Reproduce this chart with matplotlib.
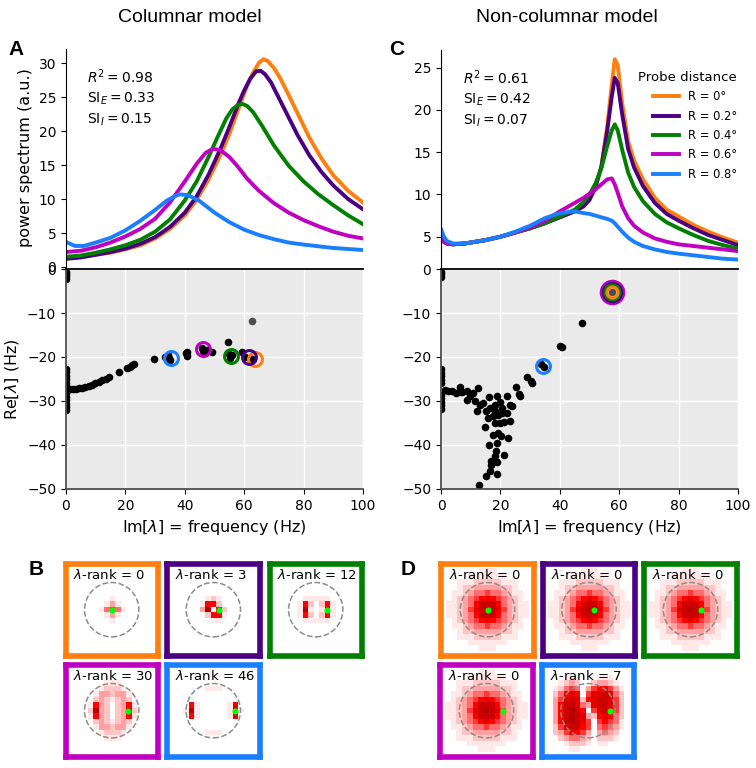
import matplotlib.pyplot as plt
import numpy as np
from matplotlib.colors import LinearSegmentedColormap
from matplotlib.patches import Circle

# ---------------- data ----------------
probe_colors = ["#ff7f0e", "#4b0082", "#008000", "#c000c0", "#1a7fff"]
probe_labels = ["R = 0°", "R = 0.2°", "R = 0.4°", "R = 0.6°", "R = 0.8°"]
probe_R = [0.0, 0.2, 0.4, 0.6, 0.8]  # deg

# power spectra, columnar model (A)
A_f_orange = [0, 5, 10, 15, 20, 25, 30, 35, 40, 44, 48, 52, 55, 58, 61, 63, 65, 66.5, 68, 70, 72, 75, 78, 82, 86, 90, 95, 100]
A_p_orange = [1.3, 1.5, 1.8, 2.1, 2.6, 3.2, 4.2, 5.6, 7.6, 9.9, 12.9, 16.5, 19.6, 23.2, 26.7, 28.6, 30.1, 30.6, 30.3, 29.3, 27.9, 25.3, 22.6, 19.0, 16.0, 13.5, 11.2, 9.5]
A_f_purple = [0, 5, 10, 15, 20, 25, 30, 35, 40, 44, 48, 52, 55, 58, 60, 62, 64, 65.5, 67, 69, 72, 75, 78, 82, 86, 90, 95, 100]
A_p_purple = [1.2, 1.4, 1.8, 2.2, 2.7, 3.4, 4.4, 5.9, 8.0, 10.4, 13.6, 17.4, 20.6, 24.0, 26.0, 27.7, 28.8, 28.9, 28.4, 27.2, 24.6, 22.0, 19.4, 16.4, 14.0, 12.0, 10.0, 8.5]
A_f_green = [0, 5, 10, 15, 20, 25, 30, 35, 40, 44, 48, 51, 54, 56, 58, 59.5, 61, 63, 66, 70, 75, 80, 85, 90, 95, 100]
A_p_green = [1.5, 1.7, 2.1, 2.6, 3.2, 4.0, 5.2, 7.0, 9.8, 12.6, 16.2, 19.1, 21.9, 23.2, 23.9, 24.0, 23.7, 22.8, 20.8, 17.9, 14.9, 12.6, 10.7, 9.1, 7.6, 6.3]
A_f_magenta = [0, 5, 10, 15, 20, 25, 30, 35, 40, 44, 47, 49.5, 52, 55, 58, 61, 65, 70, 75, 80, 85, 90, 95, 100]
A_p_magenta = [2.2, 2.4, 2.9, 3.6, 4.5, 5.6, 7.1, 9.5, 12.6, 15.2, 16.8, 17.4, 17.2, 16.2, 14.7, 13.0, 11.2, 9.4, 8.0, 6.9, 6.0, 5.2, 4.6, 4.2]
A_f_blue = [0, 3, 6, 10, 15, 20, 25, 30, 34, 38, 41, 45, 50, 55, 60, 65, 70, 75, 80, 90, 100]
A_p_blue = [3.7, 3.1, 3.1, 3.6, 4.3, 5.4, 6.8, 8.4, 9.8, 10.7, 10.6, 9.7, 8.0, 6.6, 5.5, 4.7, 4.1, 3.6, 3.3, 2.8, 2.5]

# power spectra, non-columnar model (C)
C_f = [0, 1, 2, 4, 8, 15, 20, 25, 30, 35, 40, 45, 48, 50, 52, 54, 56, 57.5, 58.5, 59.5, 61, 63, 65, 68, 72, 76, 80, 85, 90, 95, 100]
C_p_orange = [4.9, 4.4, 4.2, 4.1, 4.2, 4.6, 5.0, 5.5, 6.0, 6.6, 7.3, 8.0, 8.6, 9.3, 10.8, 13.3, 18.2, 23.0, 26.0, 25.3, 20.8, 16.3, 14.0, 11.8, 9.6, 8.2, 7.4, 6.4, 5.6, 4.9, 4.3]
C_p_purple = [4.9, 4.4, 4.2, 4.1, 4.2, 4.6, 5.0, 5.5, 6.0, 6.6, 7.3, 8.0, 8.6, 9.4, 10.9, 13.3, 17.6, 21.6, 23.8, 23.2, 19.5, 15.4, 13.2, 11.0, 9.0, 7.7, 6.9, 6.0, 5.2, 4.6, 4.0]
C_p_green = [4.9, 4.4, 4.2, 4.1, 4.2, 4.6, 5.0, 5.5, 6.0, 6.6, 7.4, 8.2, 9.1, 10.0, 11.3, 13.1, 15.8, 17.6, 18.3, 17.6, 15.3, 12.6, 10.9, 9.2, 7.7, 6.7, 6.0, 5.2, 4.5, 4.0, 3.6]
C_p_magenta = [4.9, 4.4, 4.2, 4.1, 4.2, 4.6, 5.0, 5.5, 6.1, 6.9, 8.0, 9.0, 9.6, 10.1, 10.6, 11.2, 11.8, 11.9, 11.2, 10.2, 8.6, 7.2, 6.3, 5.5, 4.8, 4.4, 4.1, 3.9, 3.7, 3.5, 3.3]
C_p_blue = [5.9, 5.0, 4.5, 4.2, 4.2, 4.6, 5.0, 5.6, 6.3, 7.2, 7.8, 8.0, 7.8, 7.7, 7.5, 7.3, 7.1, 6.9, 6.6, 6.2, 5.6, 4.9, 4.4, 3.9, 3.5, 3.2, 3.0, 2.8, 2.6, 2.4, 2.3]

# eigenvalues, columnar model: Im (Hz), Re (Hz)
A_eig_im = [0, 0, 0, 0, 0, 0, 0, 0, 0, 0, 0, 0, 0, 0, 0, 0,
            1.2, 2.2, 3.2, 4.3, 5.4, 6.5, 7.6, 8.8, 9.9, 11.0, 12.2, 13.4, 14.6, 17.7, 20.4, 21.4, 22.3, 23.0,
            29.6, 33.5, 34.4, 35.0, 34.8, 40.4, 40.6, 40.8, 45.7, 46.2, 46.8, 47.5, 49.0,
            54.6, 54.7, 55.3, 55.8, 59.1, 60.3, 61.5, 62.5]
A_eig_re = [-0.7, -1.2, -1.7, -2.2, -22.8, -23.5, -24.3, -25.0, -25.8, -26.6, -28.2, -29.0, -29.8, -30.6, -31.4, -32.0,
            -27.3, -27.3, -27.2, -27.1, -27.0, -26.8, -26.6, -26.3, -26.0, -25.6, -25.2, -24.9, -24.5, -23.3, -22.5, -22.2, -21.9, -21.5,
            -20.5, -20.1, -19.5, -20.7, -20.2, -19.0, -19.8, -18.8, -18.0, -18.6, -19.1, -18.4, -18.8,
            -16.7, -19.1, -20.3, -19.6, -18.8, -19.9, -20.2, -20.5]
A_lead = (62.5, -11.8)
A_probe_im = [63.6, 61.5, 55.5, 46.2, 35.2]
A_probe_re = [-20.5, -20.0, -19.8, -18.2, -20.2]

# eigenvalues, non-columnar model
C_eig_im = [0, 0, 0, 0, 0, 0, 0, 0, 0, 0, 0, 0, 0,
            1.3, 2.5, 3.8, 5.0, 6.4, 6.0, 7.2, 8.6, 9.8, 8.9, 10.9, 12.3, 11.4, 12.0, 13.1, 14.2, 16.3, 15.1,
            16.5, 18.2, 19.0, 19.8, 20.4, 18.2, 17.6, 19.3, 20.7, 18.2, 19.8, 21.2, 14.8, 15.9, 17.4, 19.3,
            20.1, 22.4, 16.1, 18.7, 18.5, 18.2, 21.2, 16.8, 17.0, 16.5, 15.1, 19.0, 12.9, 19.0,
            22.1, 23.2, 23.8, 25.2, 26.3, 26.6, 23.2, 22.1, 29.0, 30.3, 30.5, 33.6, 34.8, 40.0, 40.6, 47.6]
C_eig_re = [-0.7, -1.2, -1.8, -22.8, -23.6, -24.4, -25.2, -26.0, -28.6, -29.4, -30.2, -31.0, -31.8,
            -27.6, -27.7, -27.8, -28.1, -26.8, -27.9, -28.0, -27.8, -28.9, -29.7, -28.2, -27.0, -30.0, -32.3, -30.8, -30.5, -29.2, -32.3,
            -31.6, -30.8, -28.8, -30.3, -31.6, -32.3, -33.5, -33.1, -32.7, -35.0, -35.0, -34.8, -35.9, -33.9, -37.7, -37.3,
            -38.0, -38.3, -40.0, -39.5, -41.4, -42.6, -42.2, -43.7, -44.5, -46.0, -47.1, -46.5, -49.0, -43.9,
            -28.8, -31.0, -31.2, -26.9, -28.4, -28.8, -34.5, -32.7, -24.5, -25.5, -25.9, -21.7, -22.3, -17.6, -17.7, -12.3]
C_lead = (57.7, -5.2)
C_probe_im = [57.7, 57.7, 57.7, 57.7, 34.5]
C_probe_re = [-5.2, -5.2, -5.2, -5.2, -22.1]

# eigenvector maps (17 x 17 cells of 0.2 deg, intensity 0-9)
blank = "00000000000000000"
B_map_r0 = [blank, blank, blank, blank, blank, blank,
            "00000000100000000",
            "00000001310000000",
            "00000014541000000",
            "00000001310000000",
            "00000000100000000",
            blank, blank, blank, blank, blank, blank]
B_map_r3 = [blank, blank, blank, blank, blank, blank,
            "00000001210000000",
            "00000016620000000",
            "00000039062000000",
            "00000002661000000",
            "00000000110000000",
            blank, blank, blank, blank, blank, blank]
B_map_r12 = [blank, blank, blank, blank, blank, blank,
             "00000011111000000",
             "00000162026100000",
             "00000191017100000",
             "00000162026100000",
             "00000011111000000",
             blank, blank, blank, blank, blank, blank]
B_map_r30 = [blank, blank, blank,
             "00000001110000000",
             "00000012221000000",
             "00000133233100000",
             "00000232123200000",
             "00001632023610000",
             "00002932023820000",
             "00001632023610000",
             "00000232123200000",
             "00000133233100000",
             "00000012221000000",
             "00000001110000000",
             blank, blank, blank]
B_map_r46 = [blank, blank, blank, blank,
             "00000001110000000",
             blank, blank,
             "00006100000170000",
             "00019100000171000",
             "00006100000170000",
             blank, blank,
             "00000001110000000",
             blank, blank, blank, blank]
D_map_r0 = [blank,
            "00000001110000000",
            "00000111111100000",
            "00011122222111000",
            "00012233333221000",
            "00112344544321100",
            "00123456765432100",
            "01123468886432110",
            "01123578987532110",
            "01123468886432110",
            "00123456765432100",
            "00112344544321100",
            "00012233333221000",
            "00011122222111000",
            "00000111111100000",
            "00000001110000000",
            blank]
D_map_r7 = [blank, blank,
            "00001110001110000",
            "00012320023321000",
            "00124540356653100",
            "00246760577874200",
            "00357872678875200",
            "00368874378875200",
            "00368986057875200",
            "00368987326764200",
            "00368987505654100",
            "00257886504543100",
            "00235665303432000",
            "00023443202221000",
            "00001222101100000",
            "00000110000000000",
            blank]

B_maps = [B_map_r0, B_map_r3, B_map_r12, B_map_r30, B_map_r46]
B_ranks = [0, 3, 12, 30, 46]
D_maps = [D_map_r0, D_map_r0, D_map_r0, D_map_r0, D_map_r7]
D_ranks = [0, 0, 0, 0, 7]

# ---------------- figure ----------------
plt.rcParams["font.size"] = 10
W, H = 756, 768
fig = plt.figure(figsize=(W / 100, H / 100), dpi=100)


def px_axes(x0, y0, x1, y1):
    # axes from pixel box (top-left origin)
    return fig.add_axes([x0 / W, 1 - y1 / H, (x1 - x0) / W, (y1 - y0) / H])


def spectrum_panel(ax, curves, ymin, ymax, yticks):
    for (f, p), c in zip(curves, probe_colors):
        ax.plot(f, p, color=c, lw=2.8)
    ax.set_xlim(0, 100)
    ax.set_ylim(ymin, ymax)
    ax.set_yticks(yticks)
    ax.set_xticks([])
    for s in ["top", "right", "bottom"]:
        ax.spines[s].set_visible(False)


def eigen_panel(ax, im, re, lead, p_im, p_re, sizes):
    ax.set_facecolor("#eaeaea")
    ax.grid(color="white", lw=1.0)
    ax.set_axisbelow(True)
    ax.scatter(im, re, s=30, color="black", lw=0, zorder=2)
    ax.scatter([lead[0]], [lead[1]], s=30, color="#4d4d4d", lw=0, zorder=2)
    # largest rings underneath so nested rings stay visible
    order = sorted(range(5), key=lambda i: -sizes[i])
    for k, i in enumerate(order):
        ax.plot(p_im[i], p_re[i], "o", mfc="none", mec=probe_colors[i],
                ms=sizes[i], mew=2.2, zorder=3 + k * 0.1)
    ax.set_xlim(0, 100)
    ax.set_ylim(-50, 0)
    ax.set_xticks(range(0, 101, 20))
    ax.set_yticks(range(0, -51, -10))
    ax.spines["right"].set_visible(False)
    ax.spines["top"].set_color("black")
    ax.spines["top"].set_linewidth(1.3)
    for s in ["left", "bottom"]:
        ax.spines[s].set_color("0.3")
        ax.spines[s].set_linewidth(1.3)
    ax.set_xlabel(r"Im[$\lambda$] = frequency (Hz)", fontsize=11.5)


# A: columnar spectra
ax_A = px_axes(66, 49, 363, 267)
spectrum_panel(ax_A, [(A_f_orange, A_p_orange), (A_f_purple, A_p_purple),
                      (A_f_green, A_p_green), (A_f_magenta, A_p_magenta),
                      (A_f_blue, A_p_blue)], 0, 32.1, range(0, 31, 5))
ax_A.set_ylabel("power spectrum (a.u.)", fontsize=11.5)
for k, s in enumerate([r"$R^2 = 0.98$", r"$\mathrm{SI}_E = 0.33$", r"$\mathrm{SI}_I = 0.15$"]):
    ax_A.text(0.071, 0.872 - k * 0.099, s, transform=ax_A.transAxes,
              ha="left", va="center", fontsize=10)

# C: non-columnar spectra
ax_C = px_axes(441, 50, 738, 268)
spectrum_panel(ax_C, [(C_f, C_p_orange), (C_f, C_p_purple), (C_f, C_p_green),
                      (C_f, C_p_magenta), (C_f, C_p_blue)], 1.3, 27.1, range(5, 26, 5))
for k, s in enumerate([r"$R^2 = 0.61$", r"$\mathrm{SI}_E = 0.42$", r"$\mathrm{SI}_I = 0.07$"]):
    ax_C.text(0.074, 0.872 - k * 0.099, s, transform=ax_C.transAxes,
              ha="left", va="center", fontsize=10)
for line, lab in zip(ax_C.get_lines(), probe_labels):
    line.set_label(lab)
ax_C.legend(title="Probe distance", loc="upper right", bbox_to_anchor=(1.013, 0.925),
            frameon=False, fontsize=8.3, title_fontsize=9.5, handlelength=2.25,
            handletextpad=0.75, labelspacing=0.55, alignment="right", borderaxespad=0)

# eigenvalue spectra
ax_Ae = px_axes(66, 269, 363, 489)
eigen_panel(ax_Ae, A_eig_im, A_eig_re, A_lead, A_probe_im, A_probe_re, [10, 10, 10, 10, 10])
ax_Ae.set_ylabel(r"Re[$\lambda$] (Hz)", fontsize=11.5)
ax_Ce = px_axes(441, 269, 738, 489)
eigen_panel(ax_Ce, C_eig_im, C_eig_re, C_lead, C_probe_im, C_probe_re, [8, 13.3, 10.8, 16.2, 10])

# eigenvector maps
reds = LinearSegmentedColormap.from_list(
    "wr", [(0, "white"), (0.12, "#ffe6e6"), (0.35, "#ff9c9c"), (0.67, "#ff0000"), (1, "#b40000")])
box, frame = 98.0, 5.6
B_left = [62.7, 164.3, 266.7, 62.7, 164.3]
D_left = [438.5, 540.0, 641.5, 437.5, 539.0]
tops = [560.7, 560.7, 560.7, 661.7, 661.7]


def map_panel(x0, y0, grid, rank, R, color):
    ax = px_axes(x0 + frame / 2, y0 + frame / 2, x0 + box - frame / 2, y0 + box - frame / 2)
    data = np.array([[int(ch) for ch in row] for row in grid])
    ax.imshow(data, cmap=reds, vmin=0, vmax=9, extent=(-1.7, 1.7, -1.7, 1.7),
              interpolation="nearest", aspect="auto")
    ax.add_patch(Circle((0, 0), 1.0, fill=False, ls="--", lw=1.1, ec="0.55"))
    ax.plot(R, 0, "o", color="#00ff00", ms=4.4, mec="none")
    ax.set_xlim(-1.7, 1.7)
    ax.set_ylim(-1.7, 1.7)
    ax.set_xticks([])
    ax.set_yticks([])
    for s in ax.spines.values():
        s.set_color(color)
        s.set_linewidth(frame * 0.72)
    ax.text(0.085, 0.95, rf"$\lambda$-rank = {rank}", transform=ax.transAxes,
            ha="left", va="top", fontsize=9.5)


for i in range(5):
    map_panel(B_left[i], tops[i], B_maps[i], B_ranks[i], probe_R[i], probe_colors[i])
    map_panel(D_left[i], tops[i], D_maps[i], D_ranks[i], probe_R[i], probe_colors[i])

# titles and panel letters
fig.text(190 / W, 1 - 18 / H, "Columnar model", ha="center", va="center",
         fontsize=14, family="Liberation Sans")
fig.text(567 / W, 1 - 18 / H, "Non-columnar model", ha="center", va="center",
         fontsize=14, family="Liberation Sans")
for letter, x, y in [("A", 8, 55), ("C", 389, 55), ("B", 29, 575), ("D", 401, 575)]:
    fig.text(x / W, 1 - y / H, letter, ha="left", va="baseline", fontsize=15,
             fontweight="bold", family="Liberation Sans")

fig.savefig("out.png", dpi=100)
